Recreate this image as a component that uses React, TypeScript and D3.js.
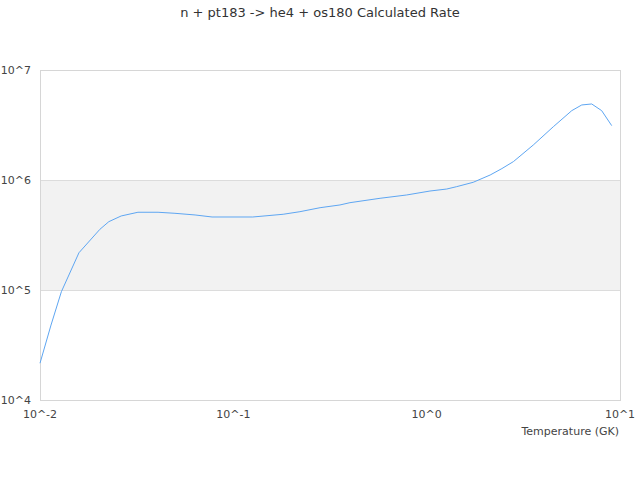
import { useEffect, useRef } from "react"
import * as d3 from "d3"

// temperatures (GK) and rates
const temps = [
  0.01, 0.0114, 0.0129, 0.0159, 0.0204, 0.0227, 0.0263, 0.0321, 0.0408, 0.0499,
  0.0634, 0.0776, 0.126, 0.181, 0.221, 0.281, 0.356, 0.401, 0.574, 0.788,
  1.04, 1.27, 1.43, 1.74, 2.13, 2.45, 2.81, 3.56, 4.52, 5.63, 6.34, 7.14, 8.04, 9.06,
]
const rates = [
  2.16e4, 4.8e4, 9.65e4, 2.18e5, 3.56e5, 4.18e5, 4.71e5, 5.09e5, 5.09e5, 4.98e5,
  4.81e5, 4.61e5, 4.61e5, 4.88e5, 5.15e5, 5.6e5, 5.93e5, 6.22e5, 6.82e5, 7.31e5,
  7.94e5, 8.28e5, 8.7e5, 9.53e5, 1.11e6, 1.27e6, 1.47e6, 2.08e6, 3.05e6, 4.27e6,
  4.81e6, 4.91e6, 4.27e6, 3.12e6,
]
const xTicks = [0.01, 0.1, 1, 10]
const xTickLabels = ["10^-2", "10^-1", "10^0", "10^1"]
const yTicks = [1e4, 1e5, 1e6, 1e7]
const yTickLabels = ["10^4", "10^5", "10^6", "10^7"]

const title = "n + pt183 -> he4 + os180 Calculated Rate"
const xTitle = "Temperature (GK)"

export default function App() {
  const svgRef = useRef<SVGSVGElement>(null)

  useEffect(() => {
    if (!svgRef.current) return
    const svg = d3.select(svgRef.current)
    svg.selectAll("*").remove()

    const width = 640
    const height = 480
    const margin = { top: 70, right: 20, bottom: 80, left: 40 }
    const innerWidth = width - margin.left - margin.right
    const innerHeight = height - margin.top - margin.bottom
    const font = "'DejaVu Sans', sans-serif"

    const x = d3.scaleLog().domain([0.01, 10]).range([0, innerWidth])
    const y = d3.scaleLog().domain([1e4, 1e7]).range([innerHeight, 0])

    svg.append("rect").attr("width", width).attr("height", height).attr("fill", "#fff")

    svg
      .append("text")
      .attr("x", width / 2)
      .attr("y", 16.5)
      .attr("text-anchor", "middle")
      .attr("font-family", font)
      .attr("font-size", 13)
      .attr("fill", "#333")
      .text(title)

    const g = svg.append("g").attr("transform", `translate(${margin.left},${margin.top})`)

    // alternating band
    g.append("rect")
      .attr("x", 0)
      .attr("width", innerWidth)
      .attr("y", y(1e6))
      .attr("height", y(1e5) - y(1e6))
      .attr("fill", "#f2f2f2")

    g.selectAll(".grid")
      .data(yTicks.slice(1, -1))
      .enter()
      .append("line")
      .attr("x1", 0)
      .attr("x2", innerWidth)
      .attr("y1", (d) => y(d) + 0.5)
      .attr("y2", (d) => y(d) + 0.5)
      .attr("stroke", "#dcdcdc")

    g.append("rect")
      .attr("x", 0.5)
      .attr("y", 0.5)
      .attr("width", innerWidth)
      .attr("height", innerHeight)
      .attr("fill", "none")
      .attr("stroke", "#d6d6d6")

    const line = d3
      .line<number>()
      .x((_, i) => x(temps[i]))
      .y((d) => y(d))

    g.append("path")
      .datum(rates)
      .attr("fill", "none")
      .attr("stroke", "#5ea6f2")
      .attr("stroke-width", 1)
      .attr("d", line)

    g.selectAll(".ylab")
      .data(yTicks)
      .enter()
      .append("text")
      .attr("x", -9)
      .attr("y", (d) => y(d))
      .attr("dy", "0.35em")
      .attr("text-anchor", "end")
      .attr("font-family", font)
      .attr("font-size", 11)
      .attr("fill", "#444")
      .text((_, i) => yTickLabels[i])

    g.selectAll(".xlab")
      .data(xTicks)
      .enter()
      .append("text")
      .attr("x", (d) => x(d))
      .attr("y", innerHeight + 14)
      .attr("dy", "0.35em")
      .attr("text-anchor", "middle")
      .attr("font-family", font)
      .attr("font-size", 11)
      .attr("fill", "#444")
      .text((_, i) => xTickLabels[i])

    g.append("text")
      .attr("x", innerWidth - 1)
      .attr("y", innerHeight + 31)
      .attr("dy", "0.35em")
      .attr("text-anchor", "end")
      .attr("font-family", font)
      .attr("font-size", 11)
      .attr("fill", "#444")
      .text(xTitle)
  }, [])

  return (
    <div style={{ position: "absolute", left: 0, top: 0, width: 640, height: 480 }}>
      <svg ref={svgRef} width={640} height={480} style={{ display: "block" }} />
    </div>
  )
}
